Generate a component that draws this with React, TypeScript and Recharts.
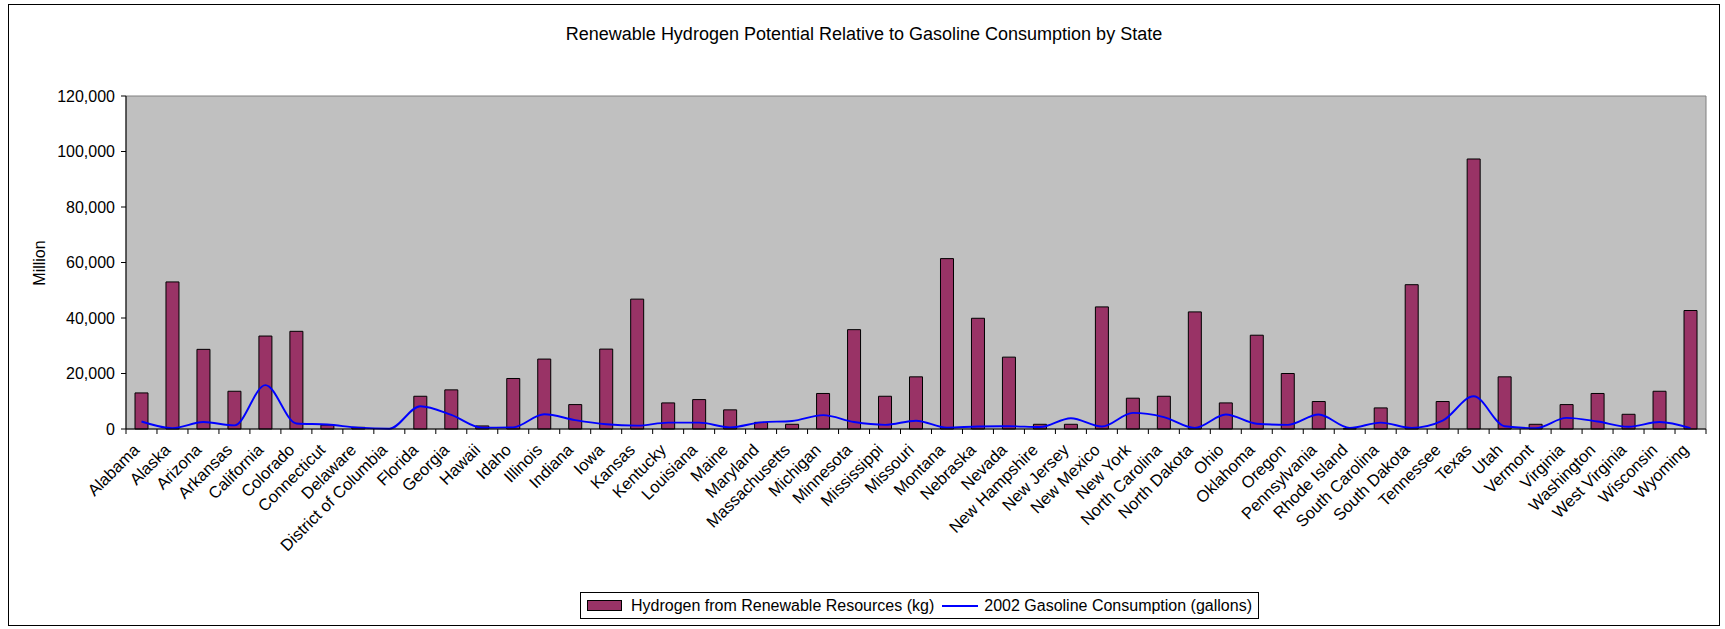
import React from "react";
import {
  ComposedChart, Bar, Line, XAxis, YAxis, CartesianGrid, ReferenceArea,
} from "recharts";

const states = [
  "Alabama", "Alaska", "Arizona", "Arkansas", "California", "Colorado", "Connecticut",
  "Delaware", "District of Columbia", "Florida", "Georgia", "Hawaii", "Idaho", "Illinois",
  "Indiana", "Iowa", "Kansas", "Kentucky", "Louisiana", "Maine", "Maryland",
  "Massachusetts", "Michigan", "Minnesota", "Mississippi", "Missouri", "Montana",
  "Nebraska", "Nevada", "New Hampshire", "New Jersey", "New Mexico", "New York",
  "North Carolina", "North Dakota", "Ohio", "Oklahoma", "Oregon", "Pennsylvania",
  "Rhode Island", "South Carolina", "South Dakota", "Tennessee", "Texas", "Utah",
  "Vermont", "Virginia", "Washington", "West Virginia", "Wisconsin", "Wyoming",
];

// Hydrogen from renewable resources, million kg
const hydrogen = [
  13000, 53000, 28700, 13600, 33500, 35200, 1400, 600, 0, 11800, 14100, 1100, 18200, 25200,
  8800, 28800, 46800, 9400, 10600, 6900, 2400, 1700, 12800, 35800, 11800, 18800, 61400,
  39900, 25900, 1700, 1700, 44000, 11100, 11800, 42200, 9400, 33800, 20000, 9900,
  100, 7600, 52000, 9900, 97300, 18800, 1700, 8800, 12800, 5300, 13600, 42700,
];

// 2002 gasoline consumption, million gallons
const gasoline = [
  2700, 300, 2500, 1300, 15800, 2000, 1600, 500, 100, 8200, 5100, 450, 600, 5300,
  3200, 1700, 1200, 2300, 2300, 600, 2400, 2900, 5000, 2500, 1500, 3000, 500,
  900, 1000, 700, 3900, 900, 5800, 4300, 400, 5200, 1900, 1500, 5200,
  400, 2300, 400, 3000, 11800, 1000, 300, 4000, 2700, 800, 2500, 300,
];

const yTicks = [0, 20000, 40000, 60000, 80000, 100000, 120000];

const data = states.map((state, i) => ({
  state,
  hydrogen: hydrogen[i],
  gasoline: gasoline[i],
}));

const FONT = '"Liberation Sans", Arial, sans-serif';
const BAR = "#993366";
const LINE = "#0000FF";

function StateTick(props: any) {
  const { x, y, payload, index, visibleTicksCount } = props;
  const half = typeof payload?.offset === "number" && payload.offset > 0 ? payload.offset : 15.5;
  const last = index === visibleTicksCount - 1;
  const ax = x - 1;
  const ay = y + 22;
  return (
    <g>
      <line x1={x - half} y1={y} x2={x - half} y2={y + 5} stroke="#000" />
      {last && <line x1={x + half} y1={y} x2={x + half} y2={y + 5} stroke="#000" />}
      <text
        x={ax} y={ay} textAnchor="end" fontSize={16.5} fill="#000" fontFamily={FONT}
        transform={`rotate(-45 ${ax} ${ay})`}
      >
        {payload.value}
      </text>
    </g>
  );
}

export default function App() {
  return (
    <div
      style={{
        position: "absolute", left: 8, top: 4, width: 1710, height: 620,
        border: "1px solid #000", background: "#fff", fontFamily: FONT,
      }}
    >
      <div
        style={{
          position: "absolute", left: 0, right: 0, top: 19, textAlign: "center",
          fontSize: 18, color: "#000",
        }}
      >
        Renewable Hydrogen Potential Relative to Gasoline Consumption by State
      </div>
      <div
        style={{
          position: "absolute", left: 31, top: 258, fontSize: 16, color: "#000",
          transform: "translate(-50%, -50%) rotate(-90deg)", whiteSpace: "nowrap",
        }}
      >
        Million
      </div>
      <ComposedChart
        width={1710} height={620} data={data}
        margin={{ top: 91, right: 13, bottom: 76, left: 37 }}
      >
        <CartesianGrid fill="#C0C0C0" horizontal={false} vertical={false} />
        <ReferenceArea y1={0} y2={120000} fill="none" stroke="#808080" strokeWidth={1} ifOverflow="extendDomain" />
        <XAxis
          dataKey="state" interval={0} height={120}
          tickLine={false} tickSize={0} tickMargin={0}
          axisLine={{ stroke: "#000" }}
          tick={<StateTick />}
        />
        <YAxis
          width={80} domain={[0, 120000]} ticks={yTicks}
          tickFormatter={(v: number) => v.toLocaleString("en-US")}
          tick={{ fontSize: 16, fill: "#000", fontFamily: FONT }}
          tickSize={5} tickMargin={6}
          axisLine={{ stroke: "#000" }} tickLine={{ stroke: "#000" }}
        />
        <Bar
          dataKey="hydrogen" name="Hydrogen from Renewable Resources (kg)"
          fill={BAR} stroke="#000" strokeWidth={1} barSize={13}
          isAnimationActive={false}
        />
        <Line
          type="monotone" dataKey="gasoline" name="2002 Gasoline Consumption (gallons)"
          stroke={LINE} strokeWidth={1.9} dot={false} isAnimationActive={false}
        />
      </ComposedChart>
      <div
        style={{
          position: "absolute", left: 571, top: 587, height: 27, boxSizing: "border-box",
          border: "1px solid #000", display: "flex", alignItems: "center",
          padding: "0 6px", fontSize: 16, color: "#000", whiteSpace: "nowrap",
        }}
      >
        <span style={{ display: "inline-block", width: 33, height: 9, background: BAR, border: "1px solid #000", marginRight: 9 }} />
        <span>Hydrogen from Renewable Resources (kg)</span>
        <span style={{ display: "inline-block", width: 36, height: 0, borderTop: `2px solid ${LINE}`, margin: "0 6px 0 8px" }} />
        <span>2002 Gasoline Consumption (gallons)</span>
      </div>
    </div>
  );
}
